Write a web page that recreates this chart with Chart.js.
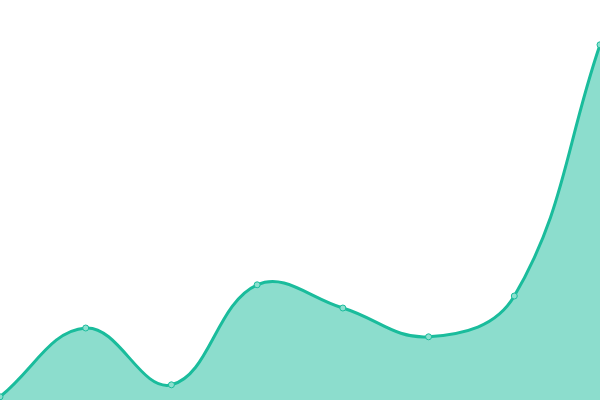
<!DOCTYPE html>
<html>
<head>
<meta charset="utf-8">
<script src="https://cdn.jsdelivr.net/npm/chart.js@4"></script>
<style>
  html, body { margin: 0; padding: 0; background: #fff; }
  #wrap { width: 600px; height: 400px; }
</style>
</head>
<body>
<div id="wrap"><canvas id="areaChart"></canvas></div>
<script>
const labels = ['1', '2', '3', '4', '5', '6', '7', '8'];
const values = [0.8, 18, 3.8, 28.8, 23, 15.8, 26, 88.8];
const yMin = 0;
const yMax = 100;

const ctx = document.getElementById('areaChart').getContext('2d');
new Chart(ctx, {
  type: 'line',
  data: {
    labels: labels,
    datasets: [
      {
        data: values,
        fill: true,
        backgroundColor: 'rgba(26, 188, 156, 0.5)',
        borderColor: 'rgba(26, 188, 156, 1)',
        borderWidth: 3,
        tension: 0.4,
        pointRadius: 3,
        pointBorderWidth: 1,
        pointBackgroundColor: 'rgba(140, 224, 207, 1)',
        pointBorderColor: 'rgba(26, 188, 156, 1)',
      },
    ],
  },
  options: {
    responsive: true,
    maintainAspectRatio: false,
    animation: false,
    layout: { padding: 0, autoPadding: false },
    plugins: {
      legend: { display: false },
      tooltip: { enabled: false },
    },
    scales: {
      x: { display: false },
      y: { display: false, min: yMin, max: yMax },
    },
  },
});
</script>
</body>
</html>
